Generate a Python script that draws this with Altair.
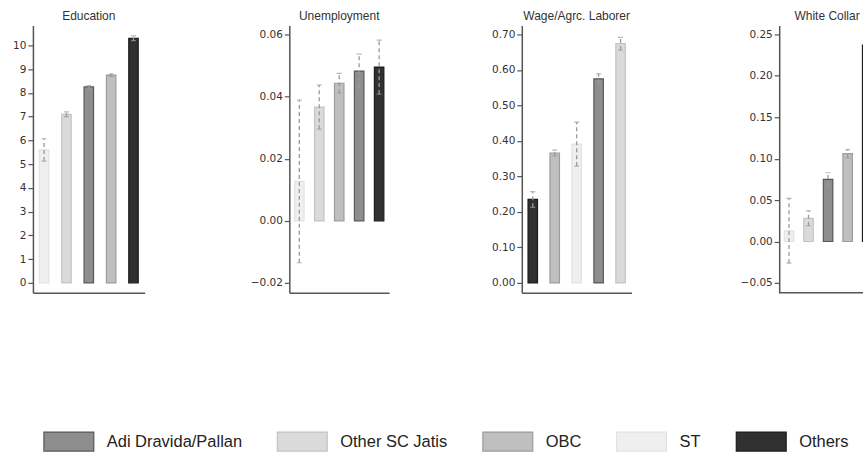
import altair as alt
import pandas as pd

# Caste groups, in legend order, with their bar fill and outline shades
groups = ["Adi Dravida/Pallan", "Other SC Jatis", "OBC", "ST", "Others"]
fills = ["#8e8e8e", "#dadada", "#bfbfbf", "#efefef", "#303030"]
outlines = ["#575757", "#c4c4c4", "#9c9c9c", "#e2e2e2", "#1c1c1c"]

# Group means and half-widths of their confidence intervals, per outcome
education = [8.25, 7.10, 8.75, 5.60, 10.30]
education_ci = [0.06, 0.10, 0.05, 0.47, 0.10]

unemployment = [0.0482, 0.0366, 0.0443, 0.0127, 0.0495]
unemployment_ci = [0.0055, 0.0071, 0.0032, 0.0262, 0.0087]

wage_labor = [0.575, 0.674, 0.366, 0.391, 0.235]
wage_labor_ci = [0.014, 0.018, 0.008, 0.062, 0.022]

white_collar = [0.075, 0.028, 0.106, 0.013, 0.237]
white_collar_ci = [0.008, 0.009, 0.005, 0.039, 0.007]

# Axis ticks per outcome
education_ticks = list(range(0, 11))
unemployment_ticks = [-0.02, 0.0, 0.02, 0.04, 0.06]
wage_labor_ticks = [0.0, 0.1, 0.2, 0.3, 0.4, 0.5, 0.6, 0.7]
white_collar_ticks = [-0.05, 0.0, 0.05, 0.10, 0.15, 0.20, 0.25]

AXIS_GREY = "#555555"
TEXT_GREY = "#333333"
WHISKER_GREY = "#9a9a9a"
PANEL_H = 268
SPACING = 100


def panel(title, values, ci, domain, ticks, fmt, width, extent,
          band_span=None, title_dx=0):
    df = pd.DataFrame({
        "group": groups,
        "value": values,
        "lo": [v - c for v, c in zip(values, ci)],
        "hi": [v + c for v, c in zip(values, ci)],
    })
    # bars run from the smallest to the largest mean
    order = [g for _, g in sorted(zip(values, groups))]
    xscale = alt.Scale(paddingInner=0.5, paddingOuter=0.25)
    if band_span is not None:
        # the band range runs past the right edge of the panel
        xscale = alt.Scale(paddingInner=0.5, paddingOuter=0.25,
                           range=[0, band_span])
    x = alt.X(
        "group:N", sort=order, scale=xscale,
        axis=alt.Axis(title=None, labels=False, ticks=False,
                      domain=band_span is None,
                      domainColor=AXIS_GREY, domainWidth=1.5),
    )
    yscale = alt.Scale(domain=domain, nice=False, zero=False)
    yaxis = alt.Axis(
        title=None, values=ticks, format=fmt, grid=False,
        domainColor=AXIS_GREY, domainWidth=1.5,
        tickColor=AXIS_GREY, tickWidth=1.2, tickSize=5,
        labelFont="DejaVu Sans", labelFontSize=10.5, labelColor=TEXT_GREY,
        labelPadding=2, minExtent=extent, maxExtent=extent,
    )
    base = alt.Chart(df)
    bars = base.mark_bar(size=9.5, strokeWidth=1.2, clip=True).encode(
        x=x,
        y=alt.Y("value:Q", scale=yscale, axis=yaxis),
        y2=alt.datum(0),
        fill=alt.Fill("group:N", title=None,
                      scale=alt.Scale(domain=groups, range=fills)),
        stroke=alt.Stroke("group:N", title=None,
                          scale=alt.Scale(domain=groups, range=outlines)),
    )
    whisker = base.mark_rule(color=WHISKER_GREY, strokeWidth=1.3,
                             strokeDash=[4, 3], clip=True).encode(
        x=x,
        y=alt.Y("lo:Q", scale=yscale, axis=yaxis),
        y2="hi:Q",
    )
    caps = base.transform_fold(["lo", "hi"], as_=["end", "bound"]).mark_tick(
        color=WHISKER_GREY, size=5, thickness=1.2, clip=True
    ).encode(
        x=x,
        y=alt.Y("bound:Q", scale=yscale, axis=yaxis),
    )
    layers = [bars, whisker, caps]
    if band_span is not None:
        # bottom axis line limited to the visible panel width
        baseline = alt.Chart(df.head(1)).mark_rule(
            color=AXIS_GREY, strokeWidth=1.5
        ).encode(x=alt.value(0), x2=alt.value(width), y=alt.value(PANEL_H))
        layers.append(baseline)
    return alt.layer(*layers).properties(
        width=width,
        height=PANEL_H,
        title=alt.TitleParams(title, font="Liberation Sans", fontSize=12,
                              fontWeight="normal", color=TEXT_GREY,
                              anchor="middle", offset=2, dx=title_dx),
    )


p1 = panel("Education", education, education_ci, [-0.42, 10.84],
           education_ticks, "d", 112, 25)
p2 = panel("Unemployment", unemployment, unemployment_ci, [-0.0232, 0.0629],
           unemployment_ticks, ".2f", 100, 45)
p3 = panel("Wage/Agrc. Laborer", wage_labor, wage_labor_ci, [-0.0281, 0.7253],
           wage_labor_ticks, ".2f", 110, 33)
p4 = panel("White Collar", white_collar, white_collar_ci, [-0.062, 0.2608],
           white_collar_ticks, ".2f", 84, 48, band_span=98, title_dx=6)

# the last bar of the right-hand panel runs off the page edge; the negative
# right padding trims the view at the panel border
chart = (
    alt.hconcat(p1, p2, p3, p4, spacing=SPACING)
    .resolve_scale(y="independent")
    .properties(padding={"left": 8, "top": 10, "right": -12, "bottom": 0})
    .configure_view(stroke=None)
    .configure_legend(
        orient="none", legendX=10, legendY=391, direction="horizontal",
        symbolType="M-1,-0.38H1V0.38H-1Z", symbolSize=2500,
        symbolStrokeWidth=1.2,
        labelFont="Liberation Sans", labelFontSize=16.5,
        labelColor="#222222", labelOffset=12, columnPadding=32,
        padding=0,
    )
)

chart.save("out.html", embed_options={"renderer": "svg", "actions": False})
